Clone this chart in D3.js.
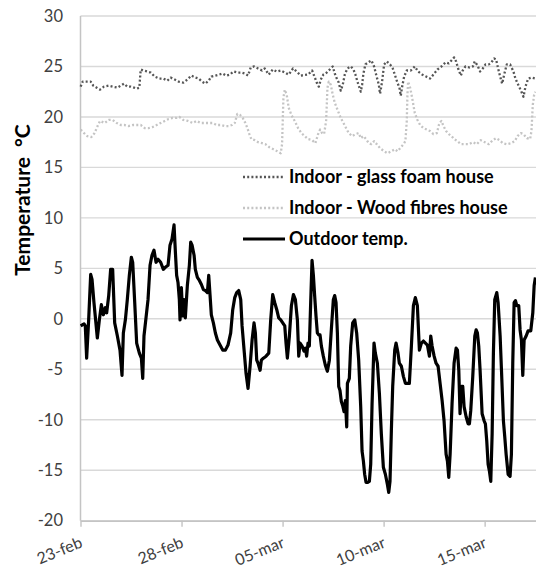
<!DOCTYPE html>
<html><head><meta charset="utf-8">
<script src="https://cdn.jsdelivr.net/npm/d3@7/dist/d3.min.js"></script>
<style>body{margin:0;background:#fff}svg{display:block}</style>
</head><body>
<svg id="chart" width="536" height="571"></svg>
<script>
// ---- data ----
const startDate = new Date(2013, 1, 23, 0, 0);   // 23-feb
const spanHours = 541;                            // visible period in hours
const yTicks = [-20, -15, -10, -5, 0, 5, 10, 15, 20, 25, 30];
const xTickDays = [0, 5, 10, 15, 20];             // days after start
const xTickLabels = ["23-feb", "28-feb", "05-mar", "10-mar", "15-mar"];
const yTitle = "Temperature  °C";
const seriesNames = ["Indoor - glass foam house", "Indoor - Wood fibres house", "Outdoor temp."];

// [hours since start, °C]
const glassFoam = [
[0.2,23.0],[2.6,23.5],[7.3,23.5],[12.1,23.5],[15.2,23.1],[19.2,22.9],[23.2,22.7],[27.9,23.0],[33.5,23.1],[38.2,23.0],
[43.8,22.9],[47.7,23.1],[51.7,23.3],[55.6,23.0],[59.6,23.0],[63.6,22.9],[66.7,22.8],[69.9,22.9],[71.5,24.7],[74.6,24.6],
[79.4,24.5],[83.4,24.4],[88.1,24.0],[93.6,23.8],[98.4,23.8],[103.2,23.6],[107.1,23.9],[111.9,23.7],[116.6,23.5],[122.2,23.4],
[126.9,23.7],[131.7,24.1],[136.4,23.9],[140.4,23.8],[144.3,23.5],[148.3,23.3],[152.3,23.6],[155.4,24.0],[160.2,24.1],[164.9,24.2],
[168.9,24.3],[172.9,24.1],[177.6,24.2],[181.6,24.5],[186.3,24.4],[191.1,24.4],[195.0,24.3],[199.0,24.1],[202.2,24.9],[206.1,25.0],
[210.9,24.8],[215.6,24.6],[218.8,24.8],[223.6,24.2],[228.3,24.7],[233.1,24.5],[237.8,24.6],[242.6,24.4],[247.3,24.2],[252.4,24.8],
[256.8,24.5],[261.6,24.1],[270.3,24.2],[275.1,24.6],[277.4,24.1],[280.6,23.4],[283.0,23.0],[285.4,23.7],[288.5,24.2],[292.5,24.4],
[297.2,24.8],[299.6,25.0],[302.0,24.3],[304.4,23.8],[306.7,23.4],[309.1,22.6],[311.5,23.2],[313.9,24.2],[317.0,24.8],[321.0,25.0],
[324.2,24.7],[326.5,24.2],[328.9,23.5],[331.3,22.9],[332.9,22.5],[334.5,23.2],[336.0,24.3],[338.4,25.2],[341.6,25.4],[345.5,25.6],
[348.7,25.0],[351.1,24.2],[354.3,23.2],[355.8,22.3],[358.2,23.5],[360.6,25.2],[363.8,25.5],[367.7,25.2],[370.9,24.8],[373.3,24.2],
[376.4,23.4],[378.8,22.9],[380.4,22.1],[382.0,23.0],[384.4,24.0],[387.5,24.6],[392.3,24.6],[397.0,25.0],[401.0,24.5],[405.7,24.2],
[410.5,24.0],[415.2,23.8],[419.2,24.2],[424.0,24.7],[428.7,25.0],[433.5,25.4],[437.4,25.3],[440.6,25.6],[443.8,25.9],[446.1,25.5],
[448.5,24.8],[451.7,24.1],[454.0,24.6],[457.2,25.0],[462.0,24.9],[465.9,25.0],[468.3,25.5],[471.5,25.1],[474.6,24.5],[477.8,24.8],
[481.0,25.2],[484.9,25.2],[488.1,25.4],[491.3,25.8],[493.6,25.7],[496.0,24.8],[498.4,24.0],[500.8,23.3],[503.2,24.2],[506.3,25.2],
[510.3,25.2],[514.2,24.5],[516.6,23.8],[519.8,23.2],[523.7,22.5],[526.1,22.0],[528.5,23.0],[531.7,23.8],[535.6,23.9],[540.4,23.8]
];

const woodFibres = [
[0.2,18.75],[4.2,18.4],[8.1,18.1],[12.9,18.0],[16.8,18.4],[19.2,18.9],[23.2,19.6],[28.7,19.4],[33.5,19.7],[38.2,19.7],
[43.0,19.4],[47.7,19.2],[52.5,19.2],[57.2,19.1],[62.0,19.2],[66.7,19.2],[71.5,19.2],[76.2,18.9],[81.0,18.9],[85.7,19.0],
[90.5,19.2],[95.2,19.4],[100.0,19.6],[104.7,19.8],[109.5,19.9],[114.2,19.9],[117.4,20.0],[122.2,19.7],[127.7,19.6],[133.3,19.4],
[138.0,19.6],[142.8,19.4],[147.5,19.4],[152.3,19.4],[157.0,19.4],[161.8,19.2],[166.5,19.2],[171.3,19.1],[176.0,19.1],[180.0,19.2],
[183.2,19.4],[186.3,20.3],[189.5,20.2],[192.7,19.9],[195.8,19.4],[198.2,18.9],[200.6,18.3],[202.9,17.8],[206.9,17.7],[210.9,17.5],
[215.6,17.4],[219.6,17.3],[224.3,17.0],[229.1,16.8],[233.8,16.6],[237.8,16.4],[239.4,17.3],[240.2,19.6],[241.0,21.9],[242.6,22.7],
[244.9,22.2],[247.3,20.9],[250.5,20.2],[254.4,19.6],[258.4,18.9],[262.4,18.4],[266.3,18.1],[270.3,17.8],[275.1,17.7],[279.0,17.4],
[282.2,18.3],[284.6,18.75],[287.0,18.4],[289.3,18.3],[291.7,19.6],[292.5,21.2],[293.3,22.9],[294.9,23.5],[297.2,23.2],[299.6,22.2],
[302.0,21.4],[304.4,20.9],[306.7,20.4],[309.1,19.9],[312.3,19.4],[315.4,18.9],[318.6,18.4],[322.6,18.1],[326.5,18.3],[330.5,18.4],
[332.9,17.9],[336.0,18.1],[339.2,17.8],[342.4,17.4],[345.5,17.3],[348.7,17.6],[351.9,17.3],[355.8,16.9],[360.6,16.6],[364.6,16.4],
[369.3,16.6],[373.3,16.8],[376.4,16.6],[379.6,16.9],[383.6,17.3],[385.9,17.6],[387.5,19.6],[388.3,22.2],[389.1,23.5],[391.5,22.9],
[393.9,21.9],[397.0,20.4],[400.2,19.7],[403.4,19.2],[407.3,18.9],[411.3,18.75],[415.2,18.6],[419.2,18.3],[423.2,18.4],[426.3,19.4],
[428.7,19.6],[431.1,19.1],[434.2,18.6],[437.4,18.3],[440.6,18.1],[443.8,17.8],[447.7,17.6],[451.7,17.3],[456.4,17.3],[461.2,17.3],
[466.0,17.5],[470.7,17.3],[475.4,17.7],[480.2,17.5],[484.9,17.3],[489.7,17.7],[493.6,17.9],[497.6,17.7],[501.6,17.4],[506.3,17.3],
[511.1,17.4],[515.8,17.6],[519.0,18.1],[523.0,18.4],[526.1,18.3],[530.1,17.9],[534.0,17.8],[535.6,18.6],[536.4,19.9],[537.2,21.2],
[538.8,22.2],[540.4,22.5]
];

const outdoor = [
[0.2,-0.7],[4.2,-0.5],[5.7,-0.7],[7.3,-3.9],[9.7,-0.1],[12.1,4.4],[13.7,3.9],[16.0,1.6],[20.0,-1.9],[22.4,-0.1],
[24.8,1.4],[27.1,0.4],[29.5,1.1],[31.1,0.6],[33.5,2.3],[35.8,4.9],[38.2,4.9],[40.6,-0.4],[43.8,-1.7],[46.9,-3.1],
[49.3,-5.6],[50.9,-1.4],[53.3,-0.1],[55.6,1.9],[58.0,4.3],[60.4,6.1],[62.0,5.6],[64.4,1.6],[66.7,-2.4],[69.9,-3.4],
[72.3,-3.9],[73.9,-5.9],[75.4,-1.7],[77.8,0.1],[80.2,1.9],[82.6,5.3],[84.9,6.3],[87.3,6.8],[89.7,5.6],[92.1,5.9],
[95.2,5.6],[98.4,4.9],[100.8,5.1],[104.0,5.3],[106.3,7.3],[108.7,7.9],[111.1,9.3],[112.7,6.6],[114.2,4.3],[115.8,3.6],
[117.4,1.9],[118.2,-0.1],[119.8,3.1],[121.4,0.3],[123.0,1.9],[124.5,0.1],[126.9,3.3],[129.3,5.3],[130.9,7.6],[132.5,7.3],
[134.9,6.3],[136.4,4.9],[138.8,4.1],[141.2,3.8],[143.6,3.4],[145.9,2.9],[148.3,2.8],[150.7,2.6],[152.3,4.3],[153.9,2.3],
[155.4,0.4],[157.8,-0.4],[160.2,-1.4],[162.6,-2.1],[165.7,-2.6],[168.9,-3.1],[172.1,-3.1],[175.2,-2.6],[178.4,-1.4],[180.8,0.9],
[183.2,2.1],[185.5,2.6],[187.9,2.8],[190.3,1.9],[191.9,-0.7],[194.3,-3.1],[196.6,-5.4],[199.0,-6.9],[201.4,-4.7],[203.8,-2.1],
[206.1,-0.4],[207.7,-1.4],[209.3,-4.1],[210.9,-4.4],[213.3,-5.1],[214.8,-4.1],[217.2,-3.9],[220.4,-3.7],[223.6,-3.4],[225.9,-0.1],
[228.3,2.4],[230.7,1.6],[233.1,0.9],[235.4,0.1],[237.8,-0.1],[240.2,-0.4],[242.6,-0.7],[244.1,-2.4],[245.7,-3.9],[248.1,-1.7],
[250.5,1.3],[252.9,2.4],[255.2,1.9],[257.6,-0.1],[259.2,-3.7],[260.8,-2.4],[263.2,-2.7],[265.5,-3.2],[267.1,-2.9],[268.6,-3.7],
[270.2,-2.4],[271.8,-2.7],[273.4,1.6],[275.0,5.8],[276.6,4.3],[278.1,2.3],[279.7,0.3],[281.3,-1.4],[282.9,-1.6],[284.5,-1.6],
[286.1,-2.7],[288.4,-3.7],[290.8,-4.6],[293.2,-5.2],[295.6,-4.1],[297.9,-1.1],[300.3,1.9],[301.9,2.3],[303.5,1.6],[305.1,-1.4],
[306.7,-6.7],[308.2,-7.1],[309.8,-8.2],[311.4,-8.6],[313.0,-9.2],[314.6,-8.1],[316.2,-10.7],[317.0,-6.4],[319.3,-5.9],[320.9,-2.7],
[323.3,-0.4],[325.7,-0.1],[328.0,-1.4],[330.4,-4.1],[332.8,-8.7],[334.4,-13.1],[336.0,-14.1],[337.5,-15.4],[339.1,-16.2],[341.5,-16.2],
[343.1,-16.1],[344.7,-14.4],[346.3,-8.4],[348.6,-2.4],[350.2,-3.4],[352.6,-4.4],[355.0,-7.4],[357.3,-11.4],[359.7,-14.7],[362.1,-15.4],
[364.5,-16.4],[366.1,-17.2],[367.6,-16.1],[369.2,-11.1],[370.8,-6.7],[373.2,-3.1],[374.8,-2.4],[377.1,-3.4],[378.7,-4.4],[381.1,-4.7],
[383.5,-5.7],[385.9,-6.4],[388.2,-6.4],[390.6,-6.4],[393.0,-2.7],[395.4,1.3],[397.7,2.1],[400.1,1.3],[402.5,-3.1],[404.9,-2.4],
[407.3,-2.2],[409.7,-2.4],[412.0,-2.6],[414.4,-3.7],[416.0,-1.7],[417.6,-2.7],[420.0,-3.7],[422.3,-4.4],[424.7,-4.7],[427.1,-6.4],
[429.5,-8.1],[431.8,-10.1],[434.2,-13.4],[435.8,-14.1],[437.4,-15.7],[439.0,-13.4],[441.3,-8.4],[443.7,-4.4],[446.1,-2.9],[447.7,-3.1],
[449.3,-5.1],[450.8,-9.4],[452.4,-6.7],[454.0,-6.7],[455.6,-8.7],[458.0,-9.7],[460.4,-10.4],[461.9,-10.4],[463.5,-9.1],[465.9,-5.7],
[468.3,-1.7],[469.9,-1.1],[471.4,-1.4],[473.0,-2.7],[474.6,-5.1],[477.0,-9.4],[479.4,-10.1],[480.9,-10.4],[482.5,-12.1],[484.1,-14.4],
[485.7,-15.1],[487.3,-16.1],[488.9,-11.4],[490.4,-3.4],[492.0,1.9],[494.4,2.6],[496.0,1.6],[498.4,-1.7],[500.0,-5.1],[502.3,-10.1],
[503.9,-11.7],[505.5,-13.4],[507.9,-15.4],[510.2,-15.6],[511.8,-13.4],[513.4,-4.4],[515.0,1.6],[516.6,1.8],[518.2,1.3],[520.5,1.3],
[522.1,-1.1],[523.7,-2.1],[525.3,-5.6],[526.9,-2.1],[529.3,-1.7],[531.6,-1.2],[534.8,-1.2],[537.2,0.6],[538.8,3.3],[540.3,4.1]
];

// ---- drawing ----
const plot = {left: 80.5, right: 536, top: 16, bottom: 520.7};
const svg = d3.select("#chart");
const hourMs = 3600e3;
const toDate = h => new Date(startDate.getTime() + h * hourMs);

const x = d3.scaleTime().domain([startDate, toDate(spanHours)]).range([plot.left, plot.right]);
const y = d3.scaleLinear().domain([-20, 30]).range([plot.bottom, plot.top]);

const font = "Lato, 'Open Sans', sans-serif";
const gridColor = "#d9d9d9";
const axisColor = "#c4c4c4";
const labelColor = "#404040";

// gridlines
svg.append("g").selectAll("line").data(yTicks).join("line")
  .attr("x1", plot.left).attr("x2", plot.right)
  .attr("y1", d => y(d)).attr("y2", d => y(d))
  .attr("stroke", gridColor).attr("stroke-width", 1.4);

// y tick labels
svg.append("g").selectAll("text").data(yTicks).join("text")
  .attr("x", 63).attr("y", d => y(d)).attr("dy", "0.35em")
  .attr("text-anchor", "end")
  .attr("font-family", font).attr("font-size", 16.5).attr("fill", labelColor)
  .text(d => d);

// left axis line
svg.append("line").attr("x1", plot.left).attr("x2", plot.left)
  .attr("y1", plot.top).attr("y2", plot.bottom)
  .attr("stroke", axisColor).attr("stroke-width", 1.5);

// x axis (ticks from d3 axis; labels drawn separately, rotated)
const xTickDates = xTickDays.map(d => toDate(d * 24));
const xAxis = d3.axisBottom(x).tickValues(xTickDates).tickSize(6).tickSizeOuter(0).tickFormat("");
const gx = svg.append("g").attr("transform", `translate(0,${plot.bottom})`).call(xAxis);
gx.select(".domain").attr("stroke", axisColor).attr("stroke-width", 1.4);
gx.selectAll(".tick line").attr("stroke", axisColor).attr("stroke-width", 1.4);
gx.selectAll(".tick text").remove();

svg.append("g").selectAll("text").data(xTickDates).join("text")
  .attr("transform", d => `translate(${x(d) + 3},${plot.bottom + 26}) rotate(-22)`)
  .attr("text-anchor", "end")
  .attr("font-family", font).attr("font-size", 16).attr("fill", labelColor)
  .text((d, i) => xTickLabels[i]);

// y title
svg.append("text")
  .attr("transform", `translate(30,200) rotate(-90)`)
  .attr("text-anchor", "middle")
  .attr("font-family", font).attr("font-weight", "bold").attr("font-size", 21)
  .attr("fill", "#000")
  .text(yTitle.replace(/ /g, "\u00A0"));

// series
const line = d3.line().x(d => x(toDate(d[0]))).y(d => y(d[1]));
const styles = [
  {data: glassFoam, color: "#555555", width: 2.3, dash: "2,2.2"},
  {data: woodFibres, color: "#c4c4c4", width: 2.3, dash: "2,2.2"},
  {data: outdoor, color: "#000000", width: 3.2, dash: null}
];
[1, 0, 2].forEach(i => {
  const s = styles[i];
  svg.append("path").datum(s.data)
    .attr("d", line)
    .attr("fill", "none")
    .attr("stroke", s.color)
    .attr("stroke-width", s.width)
    .attr("stroke-linejoin", "round")
    .attr("stroke-dasharray", s.dash);
});

// legend
const legendY = [177, 208, 239];
const lg = svg.append("g");
seriesNames.forEach((name, i) => {
  const s = styles[i];
  lg.append("line")
    .attr("x1", 243).attr("x2", 285)
    .attr("y1", legendY[i]).attr("y2", legendY[i])
    .attr("stroke", s.color).attr("stroke-width", i === 2 ? 3 : s.width)
    .attr("stroke-dasharray", s.dash);
  lg.append("text")
    .attr("x", 289).attr("y", legendY[i]).attr("dy", "0.36em")
    .attr("font-family", font).attr("font-weight", "bold").attr("font-size", 18)
    .attr("fill", "#000")
    .text(name);
});
</script>
</body></html>
